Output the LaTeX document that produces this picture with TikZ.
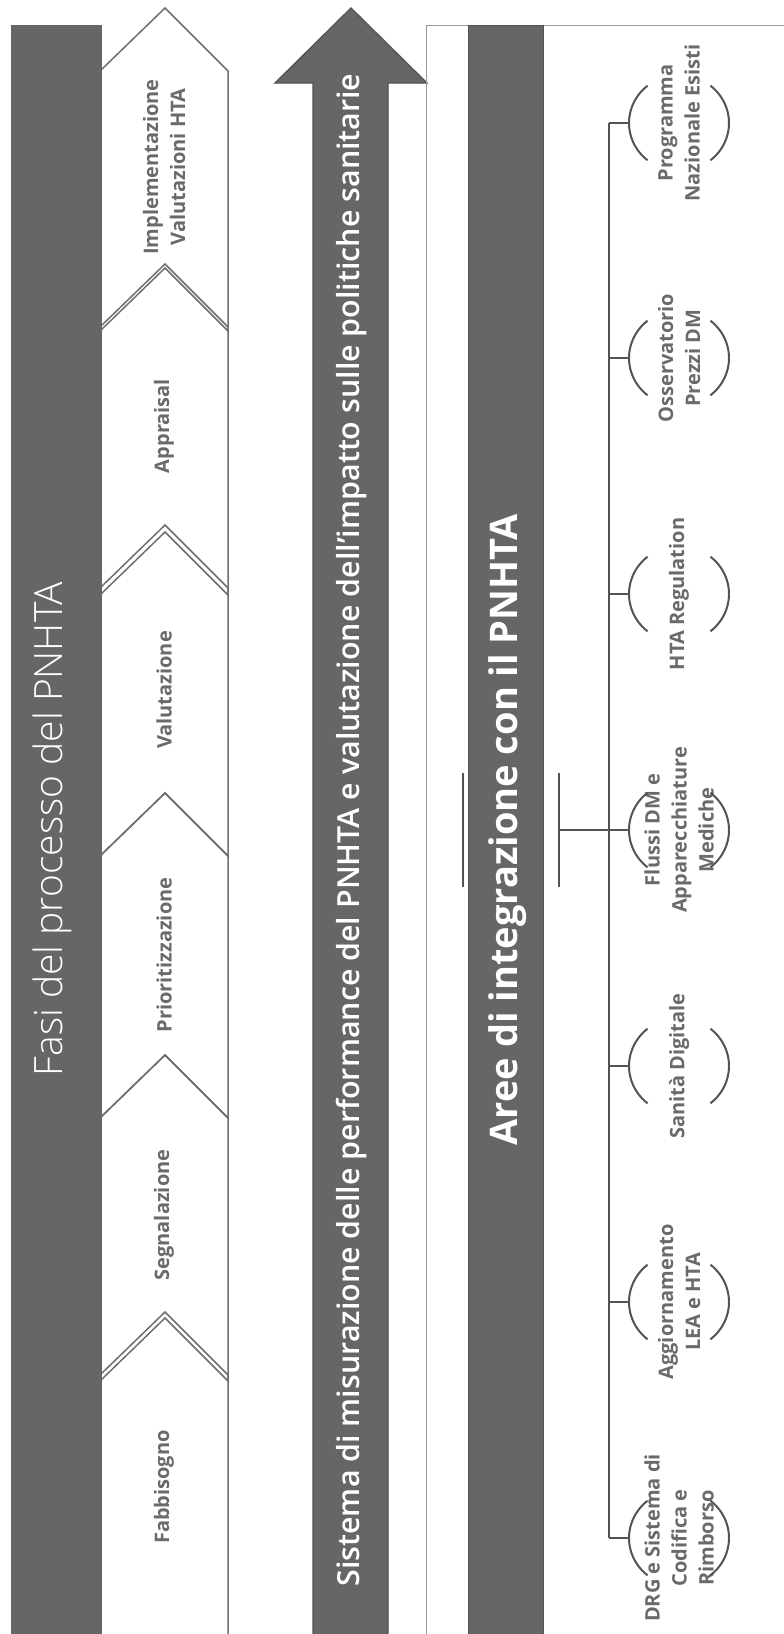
\documentclass[tikz,border=0pt]{standalone}
\usepackage{fontspec}
\setmainfont{Open Sans}
\newfontfamily\lightfont{Open Sans Light}
\newfontfamily\semifont{Open Sans Semibold}
\usetikzlibrary{calc}
\definecolor{barfill}{HTML}{666666}
\definecolor{lineg}{HTML}{6E6E6E}
\definecolor{darkline}{HTML}{535353}
\definecolor{txtg}{HTML}{6A6A6A}
\definecolor{frameg}{HTML}{999999}
\tikzset{
	stage/.style={draw=lineg, line width=1.5pt},
	stagelabel/.style={rotate=90, align=center, text=txtg, font=\bfseries\fontsize{20}{27}\selectfont},
	area/.style={rotate=90, align=center, text=txtg, font=\bfseries\fontsize{20}{27}\selectfont},
	treeline/.style={draw=darkline, line width=2pt},
	bracket/.style={draw=darkline, line width=2pt}
}
\begin{document}
\begin{tikzpicture}[x=1pt,y=-1pt]
	\useasboundingbox (0,0) rectangle (784,1634);
	\clip (0,0) rectangle (784,1634);
	\foreach \t/\b in {8/268,264/532,525/793,793/1055,1055/1318,1312/1760}
		\draw[stage] (100,\t+63) -- (165,\t) -- (228,\t+63) -- (228,\b+63) -- (165,\b) -- (100,\b+63) -- cycle;
	\foreach \y/\s [count=\i] in {167/{Implementazione\\Valutazioni HTA},426/Appraisal,690/Valutazione,955/Prioritizzazione,1215/Segnalazione,1487/Fabbisogno}
		\node[stagelabel] (st\i) at (164,\y) {\s};
	\fill[barfill] (11,25) rectangle (102,1640);
	\node[rotate=90, text=white, font=\lightfont\fontsize{39}{42}\selectfont] (fasi) at (52,829) {Fasi del processo del PNHTA};
	\draw[fill=barfill, draw=darkline, line width=1.3pt] (313,1640) -- (313,83) -- (275,83) -- (351,8) -- (427,83) -- (388,83) -- (388,1640) -- cycle;
	\node[rotate=90, text=white, font=\semifont\fontsize{30.4}{34}\selectfont] (misura) at (352,830) {Sistema di misurazione delle performance del PNHTA e valutazione dell’impatto sulle politiche sanitarie};
	\draw[frameg, line width=1pt] (426,1640) -- (426,25) -- (790,25);
	\draw[fill=barfill, draw=darkline, line width=0.8pt] (468,25) rectangle (543,1640);
	\node[rotate=90, text=white, font=\bfseries\fontsize{38}{42}\selectfont] (aree) at (508,830) {Aree di integrazione con il PNHTA};
	\node[minimum width=96pt, minimum height=114pt, inner sep=0pt] (rootbr) at (511,830) {};
	\draw[bracket] (rootbr.north west) -- (rootbr.south west) (rootbr.north east) -- (rootbr.south east);
	\foreach \y/\s [count=\i] in {123/{Programma\\Nazionale Esisti},358/{Osservatorio\\Prezzi DM},594/HTA Regulation,830/{Flussi DM e\\Apparecchiature\\Mediche},1066/Sanità Digitale,1302/{Aggiornamento\\LEA e HTA},1538/{DRG e Sistema di\\Codifica e\\Rimborso}}
		\node[area] (a\i) at (679,\y) {\s};
	\foreach \i in {1,...,7}
		\draw[bracket] (a\i.center) ++(129:50 and 48) arc[start angle=129, end angle=231, x radius=50, y radius=48]
			(a\i.center) ++(-51:50 and 48) arc[start angle=-51, end angle=51, x radius=50, y radius=48];
	\coordinate (trunk) at (609,0);
	\draw[treeline] (rootbr.east) -- (rootbr.east -| trunk);
	\draw[treeline] (a1 -| trunk) -- (a7 -| trunk);
	\foreach \i in {1,...,7}
		\draw[treeline] (a\i -| trunk) -- ([xshift=-50pt]a\i.center);
\end{tikzpicture}
\end{document}
